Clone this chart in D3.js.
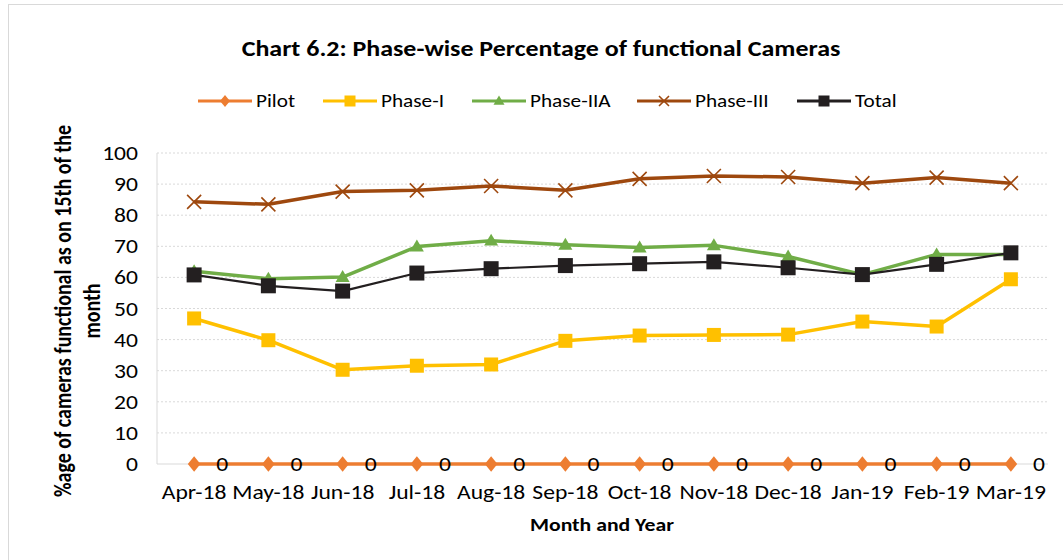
<!DOCTYPE html>
<html><head><meta charset="utf-8">
<script src="https://cdn.jsdelivr.net/npm/d3@7"></script>
<style>body{margin:0;background:#fff}svg{display:block}text{font-family:Carlito,"Liberation Sans Narrow","Open Sans",sans-serif}</style>
</head><body><svg id="c" width="1063" height="560"></svg>
<script>
const months=["Apr-18","May-18","Jun-18","Jul-18","Aug-18","Sep-18","Oct-18","Nov-18","Dec-18","Jan-19","Feb-19","Mar-19"];
const pilot=[0,0,0,0,0,0,0,0,0,0,0,0];
const phaseI=[46.8,39.8,30.3,31.6,32.0,39.6,41.3,41.5,41.6,45.8,44.2,59.4];
const phaseIIA=[62.0,59.6,60.1,69.9,71.8,70.5,69.6,70.3,66.7,60.9,67.4,67.4];
const phaseIII=[84.3,83.5,87.6,88.0,89.4,88.0,91.7,92.6,92.3,90.3,92.1,90.3];
const total=[60.8,57.3,55.6,61.4,62.8,63.8,64.4,65.0,63.1,60.9,64.2,67.9];
const yTicks=[0,10,20,30,40,50,60,70,80,90,100];

const series=[
 {name:"Pilot",values:pilot,color:"#ED7D31",marker:"diamond",w:3.5},
 {name:"Phase-I",values:phaseI,color:"#FFC000",marker:"square",w:3.5},
 {name:"Phase-IIA",values:phaseIIA,color:"#70AD47",marker:"triangle",w:3.5},
 {name:"Phase-III",values:phaseIII,color:"#9E480E",marker:"x",w:3.5},
 {name:"Total",values:total,color:"#231F20",marker:"square",w:2.2}
];
const SX=1.18;
const svg=d3.select("#c");
svg.append("rect").attr("x",8.5).attr("y",4.5).attr("width",1100).attr("height",600).attr("fill","none").attr("stroke","#d9d9d9");

function txt(x0,y0,s,size,anchor,bold){
 return svg.append("text").attr("transform",`translate(${x0},${y0}) scale(${SX},1)`)
  .attr("font-size",size).attr("text-anchor",anchor||"start").attr("font-weight",bold?"bold":"normal").attr("fill","#000").text(s);
}

const L=157,R=1048,T=153,B=464;
const x=d3.scaleBand().domain(months).range([L,R]);
const y=d3.scaleLinear().domain([0,100]).range([B,T]);
const cx=m=>x(m)+x.bandwidth()/2;

// gridlines
svg.append("g").selectAll("line").data(yTicks.filter(d=>d>0)).join("line")
 .attr("x1",L).attr("x2",R).attr("y1",d=>y(d)).attr("y2",d=>y(d))
 .attr("stroke","#d9d9d9").attr("stroke-width",1).attr("stroke-dasharray","2,2");
svg.append("line").attr("x1",L).attr("x2",L).attr("y1",T).attr("y2",B).attr("stroke","#d9d9d9");
svg.append("line").attr("x1",L).attr("x2",R).attr("y1",B).attr("y2",B).attr("stroke","#d9d9d9");

// y axis (scale-driven tick values)
y.ticks(10).forEach(t=>{ if(yTicks.includes(t)) txt(138,y(t)+7,String(t),20,"end"); });
// x axis
x.domain().forEach(m=>txt(cx(m),B+35,m,20,"middle"));

function marker(g,type,color,s){
 if(type==="diamond"){g.append("path").attr("d",`M0,${-s*0.55}L${s*0.45},0L0,${s*0.55}L${-s*0.45},0Z`).attr("fill",color);}
 else if(type==="square"){g.append("rect").attr("x",-s/2).attr("y",-s/2).attr("width",s).attr("height",s).attr("fill",color);}
 else if(type==="triangle"){g.append("path").attr("d",`M0,${-s*0.5}L${s*0.5},${s*0.35}L${-s*0.5},${s*0.35}Z`).attr("fill",color);}
 else if(type==="x"){const h=s/2;g.append("path").attr("d",`M${-h},${-h}L${h},${h}M${-h},${h}L${h},${-h}`).attr("stroke",color).attr("stroke-width",1.6);}
}
const line=d3.line().x((d,i)=>cx(months[i])).y(d=>y(d));
const drawOrder=[0,3,2,1,4];
drawOrder.forEach(k=>{
 const s=series[k];
 svg.append("path").attr("d",line(s.values)).attr("fill","none").attr("stroke",s.color).attr("stroke-width",s.w).attr("stroke-linejoin","round");
 s.values.forEach((v,i)=>{
  const g=svg.append("g").attr("transform",`translate(${cx(months[i])},${y(v)})`);
  marker(g,s.marker,s.color,s.name==="Total"?15:14);
 });
});
// data labels for pilot
pilot.forEach((d,i)=>txt(cx(months[i])+28,y(d)+7,String(d),20,"middle"));

// title
txt(541,56,"Chart 6.2: Phase-wise Percentage of functional Cameras",22,"middle",true);
// axis titles
txt(602,531,"Month and Year",18.4,"middle",true);
const yt=svg.append("text").attr("transform",`translate(0,311) scale(${SX},1) rotate(-90)`).attr("font-size",20).attr("font-weight","bold").attr("text-anchor","middle");
yt.append("tspan").attr("x",0).attr("y",60).text("%age of cameras functional as on 15th of the");
yt.append("tspan").attr("x",0).attr("y",85).text("month");

// legend
const legX=[198,323,472,637,797];
series.forEach((s,i)=>{
 const g=svg.append("g").attr("transform",`translate(${legX[i]},101)`);
 g.append("line").attr("x1",0).attr("x2",54).attr("stroke",s.color).attr("stroke-width",3);
 const mg=g.append("g").attr("transform","translate(27,0)");
 marker(mg,s.marker,s.color,s.marker==="x"?10:11);
 txt(legX[i]+58,107,s.name,18,"start");
});
</script></body></html>
